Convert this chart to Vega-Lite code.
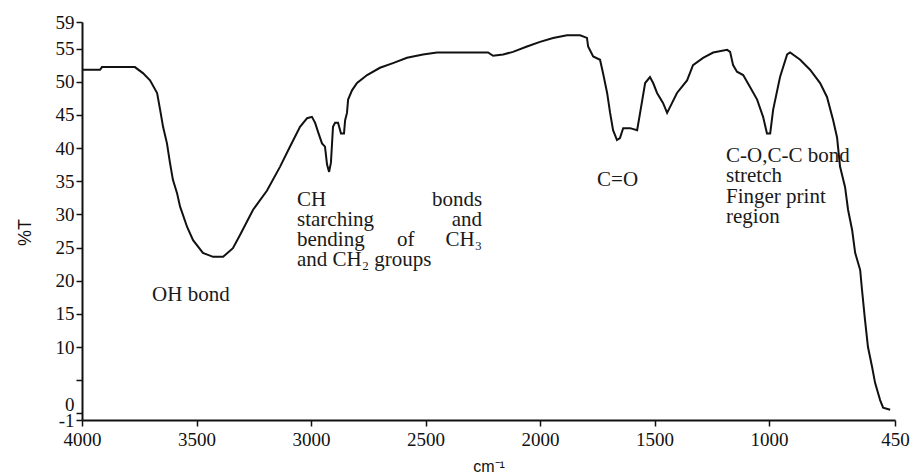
{
  "$schema": "https://vega.github.io/schema/vega-lite/v6.json",
  "width": 813,
  "height": 398,
  "autosize": {"type": "none"},
  "padding": {"left": 82, "top": 22, "right": 19, "bottom": 54},
  "background": "white",
  "config": {"view": {"stroke": null}},
  "datasets": {
    "spectrum": [
      {"wavenumber": 4000, "T": 51.8}, {"wavenumber": 3921, "T": 51.8}, {"wavenumber": 3913, "T": 52.2}, {"wavenumber": 3769, "T": 52.2},
      {"wavenumber": 3734, "T": 51.3}, {"wavenumber": 3703, "T": 50.2}, {"wavenumber": 3672, "T": 48.3}, {"wavenumber": 3659, "T": 45.8},
      {"wavenumber": 3646, "T": 43.2}, {"wavenumber": 3629, "T": 40.7}, {"wavenumber": 3616, "T": 37.8}, {"wavenumber": 3603, "T": 35.2},
      {"wavenumber": 3585, "T": 33.2}, {"wavenumber": 3572, "T": 31.2}, {"wavenumber": 3541, "T": 28.1}, {"wavenumber": 3515, "T": 26.1},
      {"wavenumber": 3472, "T": 24.2}, {"wavenumber": 3428, "T": 23.6}, {"wavenumber": 3384, "T": 23.6}, {"wavenumber": 3341, "T": 24.9},
      {"wavenumber": 3310, "T": 26.9}, {"wavenumber": 3253, "T": 30.7}, {"wavenumber": 3192, "T": 33.6}, {"wavenumber": 3135, "T": 37.2},
      {"wavenumber": 3092, "T": 40.2}, {"wavenumber": 3048, "T": 43.2}, {"wavenumber": 3017, "T": 44.5}, {"wavenumber": 2996, "T": 44.7},
      {"wavenumber": 2982, "T": 43.8}, {"wavenumber": 2969, "T": 42.4}, {"wavenumber": 2952, "T": 40.7}, {"wavenumber": 2939, "T": 40.2},
      {"wavenumber": 2930, "T": 37.5}, {"wavenumber": 2921, "T": 36.4}, {"wavenumber": 2913, "T": 37.8}, {"wavenumber": 2904, "T": 43.2},
      {"wavenumber": 2895, "T": 43.8}, {"wavenumber": 2882, "T": 43.8}, {"wavenumber": 2869, "T": 42.2}, {"wavenumber": 2856, "T": 42.2},
      {"wavenumber": 2851, "T": 44.2}, {"wavenumber": 2843, "T": 45.3}, {"wavenumber": 2838, "T": 47.3}, {"wavenumber": 2821, "T": 48.7},
      {"wavenumber": 2799, "T": 49.8}, {"wavenumber": 2755, "T": 51.0}, {"wavenumber": 2699, "T": 52.1}, {"wavenumber": 2642, "T": 52.8},
      {"wavenumber": 2581, "T": 53.6}, {"wavenumber": 2511, "T": 54.1}, {"wavenumber": 2450, "T": 54.4}, {"wavenumber": 2349, "T": 54.4},
      {"wavenumber": 2227, "T": 54.4}, {"wavenumber": 2205, "T": 53.9}, {"wavenumber": 2161, "T": 54.1}, {"wavenumber": 2118, "T": 54.5},
      {"wavenumber": 2057, "T": 55.3}, {"wavenumber": 2000, "T": 56.0}, {"wavenumber": 1943, "T": 56.6}, {"wavenumber": 1882, "T": 57.0},
      {"wavenumber": 1825, "T": 57.0}, {"wavenumber": 1795, "T": 56.6}, {"wavenumber": 1790, "T": 55.3}, {"wavenumber": 1768, "T": 53.8},
      {"wavenumber": 1738, "T": 53.3}, {"wavenumber": 1725, "T": 51.3}, {"wavenumber": 1707, "T": 48.3}, {"wavenumber": 1694, "T": 45.3},
      {"wavenumber": 1681, "T": 42.7}, {"wavenumber": 1664, "T": 41.2}, {"wavenumber": 1651, "T": 41.5}, {"wavenumber": 1637, "T": 43.0},
      {"wavenumber": 1607, "T": 43.0}, {"wavenumber": 1576, "T": 42.7}, {"wavenumber": 1563, "T": 45.3}, {"wavenumber": 1541, "T": 49.8},
      {"wavenumber": 1520, "T": 50.7}, {"wavenumber": 1506, "T": 49.8}, {"wavenumber": 1489, "T": 48.3}, {"wavenumber": 1463, "T": 46.8},
      {"wavenumber": 1445, "T": 45.3}, {"wavenumber": 1432, "T": 46.2}, {"wavenumber": 1402, "T": 48.3}, {"wavenumber": 1358, "T": 50.2},
      {"wavenumber": 1332, "T": 52.5}, {"wavenumber": 1288, "T": 53.6}, {"wavenumber": 1244, "T": 54.4}, {"wavenumber": 1183, "T": 54.8},
      {"wavenumber": 1170, "T": 54.5}, {"wavenumber": 1157, "T": 52.5}, {"wavenumber": 1140, "T": 51.5}, {"wavenumber": 1113, "T": 51.0},
      {"wavenumber": 1083, "T": 49.2}, {"wavenumber": 1052, "T": 47.3}, {"wavenumber": 1026, "T": 44.7}, {"wavenumber": 1009, "T": 42.2},
      {"wavenumber": 995, "T": 42.2}, {"wavenumber": 982, "T": 45.8}, {"wavenumber": 952, "T": 50.7}, {"wavenumber": 921, "T": 54.1},
      {"wavenumber": 908, "T": 54.4}, {"wavenumber": 864, "T": 53.3}, {"wavenumber": 821, "T": 51.8}, {"wavenumber": 777, "T": 49.8},
      {"wavenumber": 747, "T": 47.7}, {"wavenumber": 720, "T": 44.2}, {"wavenumber": 703, "T": 41.6}, {"wavenumber": 690, "T": 37.2},
      {"wavenumber": 668, "T": 34.1}, {"wavenumber": 655, "T": 30.7}, {"wavenumber": 637, "T": 27.6}, {"wavenumber": 624, "T": 24.2},
      {"wavenumber": 602, "T": 21.6}, {"wavenumber": 594, "T": 18.6}, {"wavenumber": 581, "T": 14.1}, {"wavenumber": 568, "T": 10.0},
      {"wavenumber": 550, "T": 7.0}, {"wavenumber": 537, "T": 4.6}, {"wavenumber": 515, "T": 2.0}, {"wavenumber": 502, "T": 0.85},
      {"wavenumber": 471, "T": 0.55}
    ],
    "labelsStart": [
      {"wavenumber": 3694, "T": 17.85, "label": "OH bond"},
      {"wavenumber": 3061, "T": 32.17, "label": "CH"},
      {"wavenumber": 3061, "T": 29.15, "label": "starching"},
      {"wavenumber": 3061, "T": 26.14, "label": "bending"},
      {"wavenumber": 2624, "T": 26.14, "label": "of"},
      {"wavenumber": 3061, "T": 23.12, "label": "and CH₂ groups"},
      {"wavenumber": 1751, "T": 35.18, "label": "C=O"},
      {"wavenumber": 1188, "T": 38.8, "label": "C-O,C-C bond"},
      {"wavenumber": 1188, "T": 35.79, "label": "stretch"},
      {"wavenumber": 1188, "T": 32.62, "label": "Finger print"},
      {"wavenumber": 1188, "T": 29.6, "label": "region"}
    ],
    "labelsEnd": [
      {"wavenumber": 2253, "T": 32.17, "label": "bonds"},
      {"wavenumber": 2253, "T": 29.15, "label": "and"},
      {"wavenumber": 2253, "T": 26.14, "label": "CH₃"}
    ]
  },
  "layer": [
    {
      "data": {"name": "spectrum"},
      "mark": {"type": "line", "color": "#111111", "strokeWidth": 2},
      "encoding": {
        "x": {
          "field": "wavenumber", "type": "quantitative",
          "scale": {"domain": [450, 4000], "reverse": true, "nice": false, "zero": false},
          "axis": {
            "values": [4000, 3500, 3000, 2500, 2000, 1500, 1000, 450],
            "tickCount": 20,
            "format": "d",
            "title": "cm⁻¹",
            "grid": false,
            "domainColor": "#111111", "domainWidth": 2,
            "tickColor": "#111111", "tickWidth": 1.5, "tickSize": 6,
            "labelFont": "Liberation Sans Narrow", "labelFontSize": 19, "labelColor": "#111111",
            "labelPadding": 4, "labelFlush": false, "labelOverlap": false,
            "titleFont": "Liberation Sans", "titleFontSize": 16, "titleFontWeight": "normal", "titleColor": "#111111",
            "titleY": 46, "titleBaseline": "middle"
          }
        },
        "y": {
          "field": "T", "type": "quantitative",
          "scale": {"domain": [-1, 59], "nice": false, "zero": false},
          "axis": {
            "values": [-1, 0, 5, 10, 15, 20, 25, 30, 35, 40, 45, 50, 55, 59],
            "tickCount": 30,
            "labelExpr": "datum.value == 5 ? '' : (datum.value == -1 ? '-1' : datum.label)",
            "labelOffset": {"condition": {"test": "datum.value == 0", "value": -9}, "value": 0},
            "title": "%T",
            "grid": false,
            "domainColor": "#111111", "domainWidth": 2,
            "tickColor": "#111111", "tickWidth": 1.5, "tickSize": 6,
            "labelFont": "Liberation Sans Narrow", "labelFontSize": 19, "labelColor": "#111111",
            "labelPadding": 2, "labelFlush": false, "labelOverlap": false, "labelBound": false,
            "titleFont": "Liberation Sans", "titleFontSize": 18, "titleFontWeight": "normal", "titleColor": "#111111",
            "titleX": -57, "titleY": 210, "titleBaseline": "middle", "titleAlign": "center"
          }
        }
      }
    },
    {
      "data": {"name": "labelsStart"},
      "mark": {"type": "text", "align": "left", "baseline": "middle", "font": "Liberation Serif", "fontSize": 21, "color": "#1a1a1a"},
      "encoding": {
        "x": {"field": "wavenumber", "type": "quantitative"},
        "y": {"field": "T", "type": "quantitative"},
        "text": {"field": "label"}
      }
    },
    {
      "data": {"name": "labelsEnd"},
      "mark": {"type": "text", "align": "right", "baseline": "middle", "font": "Liberation Serif", "fontSize": 21, "color": "#1a1a1a"},
      "encoding": {
        "x": {"field": "wavenumber", "type": "quantitative"},
        "y": {"field": "T", "type": "quantitative"},
        "text": {"field": "label"}
      }
    }
  ]
}
